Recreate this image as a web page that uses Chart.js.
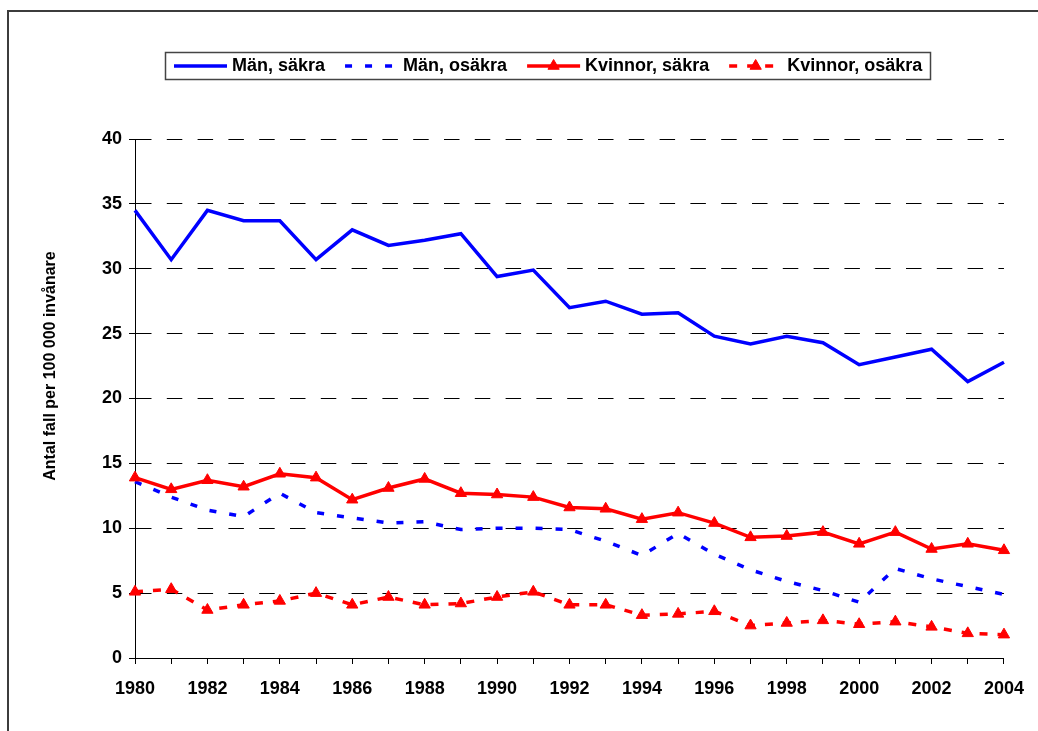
<!DOCTYPE html>
<html>
<head>
<meta charset="utf-8">
<title>Antal fall per 100 000 invånare</title>
<script src="https://cdn.jsdelivr.net/npm/chart.js@4.4.0/dist/chart.umd.min.js"></script>
<style>
  body { margin: 0; background: #fff; }
  canvas { display: block; }
</style>
</head>
<body>
<canvas id="chart1" width="1038" height="731"></canvas>
<script>
var years = ['1980', '1981', '1982', '1983', '1984', '1985', '1986', '1987', '1988', '1989',
             '1990', '1991', '1992', '1993', '1994', '1995', '1996', '1997', '1998', '1999',
             '2000', '2001', '2002', '2003', '2004'];
var menSure = [34.5, 30.7, 34.5, 33.7, 33.7, 30.7, 33.0, 31.8, 32.2, 32.7, 29.4, 29.9, 27.0,
               27.5, 26.5, 26.6, 24.8, 24.2, 24.8, 24.3, 22.6, 23.2, 23.8, 21.3, 22.8];
var menUnsure = [13.6, 12.4, 11.4, 10.9, 12.7, 11.2, 10.8, 10.4, 10.5, 9.9, 10.0, 10.0, 9.9,
                 9.0, 7.9, 9.6, 8.0, 6.8, 5.9, 5.2, 4.3, 6.9, 6.1, 5.5, 4.9];
var womenSure = [13.9, 13.0, 13.7, 13.2, 14.2, 13.9, 12.2, 13.1, 13.8, 12.7, 12.6, 12.4, 11.6,
                 11.5, 10.7, 11.2, 10.4, 9.3, 9.4, 9.7, 8.8, 9.7, 8.4, 8.8, 8.3];
var womenUnsure = [5.1, 5.3, 3.7, 4.1, 4.4, 5.0, 4.1, 4.7, 4.1, 4.2, 4.7, 5.1, 4.1,
                   4.1, 3.3, 3.4, 3.6, 2.5, 2.7, 2.9, 2.6, 2.8, 2.4, 1.9, 1.8];
var yTicks = [0, 5, 10, 15, 20, 25, 30, 35, 40];

var FONT = '"Liberation Sans", Arial, sans-serif';

function triangle(ctx, x, y, r) {
    ctx.beginPath();
    ctx.moveTo(x, y - r);
    ctx.lineTo(x + r * 0.866, y + r / 2);
    ctx.lineTo(x - r * 0.866, y + r / 2);
    ctx.closePath();
    ctx.fill();
    ctx.stroke();
}

// ram runt hela bilden, y-axelns titel och förklaringen
var decorations = {
    id: 'decorations',
    beforeDraw: function(chart) {
        var ctx = chart.ctx;
        ctx.save();
        ctx.fillStyle = '#fff';
        ctx.fillRect(0, 0, chart.width, chart.height);
        ctx.strokeStyle = '#3c3c3c';
        ctx.lineWidth = 2;
        ctx.strokeRect(8, 11, 1200, 900);
        ctx.restore();
    },
    afterDraw: function(chart) {
        var ctx = chart.ctx;
        ctx.save();
        ctx.fillStyle = '#000';
        ctx.font = 'bold 16px ' + FONT;
        ctx.translate(54.5, 366);
        ctx.rotate(-Math.PI / 2);
        ctx.textAlign = 'center';
        ctx.textBaseline = 'alphabetic';
        ctx.fillText('Antal fall per 100 000 invånare', 0, 0);
        ctx.restore();

        var y = 66;
        var x = 232;
        ctx.save();
        ctx.strokeStyle = '#444';
        ctx.lineWidth = 1.5;
        ctx.strokeRect(165.5, 52.5, 765, 27);
        ctx.font = 'bold 18px ' + FONT;
        ctx.textBaseline = 'middle';
        chart.data.datasets.forEach(function(ds) {
            ctx.strokeStyle = ds.borderColor;
            ctx.fillStyle = ds.borderColor;
            ctx.lineWidth = ds.borderWidth;
            ctx.setLineDash(ds.borderDash || []);
            ctx.beginPath();
            ctx.moveTo(x - 58, y);
            ctx.lineTo(x - 5, y);
            ctx.stroke();
            ctx.setLineDash([]);
            if (ds.pointRadius) {
                ctx.lineWidth = 1;
                triangle(ctx, x - 31.5, y, ds.pointRadius);
            }
            ctx.fillStyle = '#000';
            ctx.fillText(ds.label, x, y);
            x += ctx.measureText(ds.label).width + 78;
        });
        ctx.restore();
    }
};

document.addEventListener('DOMContentLoaded', function() {
    var ctx1 = document.getElementById('chart1').getContext('2d');
    var chart1 = new Chart(ctx1, {
        type: 'line',
        data: {
            labels: years,
            datasets: [{
                label: 'Män, säkra',
                data: menSure,
                borderColor: '#0000ff',
                borderWidth: 3.5,
                pointRadius: 0,
                order: 4
            }, {
                label: 'Män, osäkra',
                data: menUnsure,
                borderColor: '#0000ff',
                borderWidth: 3.5,
                borderDash: [7, 13],
                pointRadius: 0,
                order: 3
            }, {
                label: 'Kvinnor, säkra',
                data: womenSure,
                borderColor: '#ff0000',
                backgroundColor: '#ff0000',
                borderWidth: 3.5,
                pointStyle: 'triangle',
                pointRadius: 6.5,
                pointBorderWidth: 1,
                pointBackgroundColor: '#ff0000',
                pointBorderColor: '#ff0000',
                order: 2
            }, {
                label: 'Kvinnor, osäkra',
                data: womenUnsure,
                borderColor: '#ff0000',
                backgroundColor: '#ff0000',
                borderWidth: 3.5,
                borderDash: [8, 10],
                pointStyle: 'triangle',
                pointRadius: 6.5,
                pointBorderWidth: 1,
                pointBackgroundColor: '#ff0000',
                pointBorderColor: '#ff0000',
                order: 1
            }]
        },
        options: {
            responsive: false,
            animation: false,
            clip: false,
            layout: {
                padding: { top: 139, left: 0, right: 34, bottom: 23 }
            },
            plugins: {
                legend: { display: false },
                tooltip: { enabled: false }
            },
            scales: {
                x: {
                    offset: false,
                    grid: {
                        drawOnChartArea: false,
                        drawTicks: true,
                        tickLength: 6,
                        tickColor: '#000',
                        color: '#000'
                    },
                    border: { display: true, color: '#000', width: 1 },
                    ticks: {
                        autoSkip: false,
                        maxRotation: 0,
                        padding: 14,
                        color: '#000',
                        font: { family: FONT, size: 18, weight: 'bold' },
                        callback: function(value) {
                            var label = this.getLabelForValue(value);
                            return Number(label) % 2 === 0 ? label : '';
                        }
                    },
                    afterFit: function(scale) { scale.height = 50; }
                },
                y: {
                    min: 0,
                    max: 40,
                    afterBuildTicks: function(scale) {
                        scale.ticks = yTicks.map(function(v) { return { value: v }; });
                    },
                    grid: {
                        color: '#000',
                        lineWidth: 1,
                        drawTicks: true,
                        tickLength: 6,
                        tickColor: '#000'
                    },
                    border: { display: true, color: '#000', width: 1, dash: [15.5, 15.3] },
                    ticks: {
                        padding: 7,
                        color: '#000',
                        font: { family: FONT, size: 18, weight: 'bold' }
                    },
                    afterFit: function(scale) { scale.width = 135; }
                }
            }
        },
        plugins: [decorations]
    });
});
</script>
</body>
</html>
